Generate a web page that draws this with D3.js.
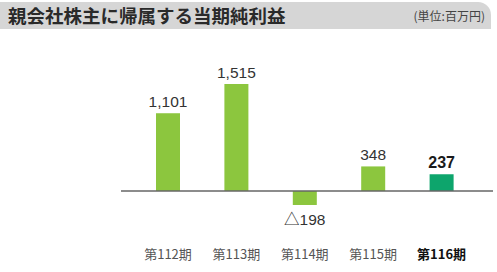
<!DOCTYPE html>
<html>
<head>
<meta charset="utf-8">
<script src="https://cdn.jsdelivr.net/npm/d3@7"></script>
<style>
  body { margin: 0; background: #fff; }
  svg text { font-family: "Liberation Sans", "Noto Sans CJK JP", sans-serif; }
</style>
</head>
<body>
<div id="chart"></div>
<script>
// chart data
const periods = ["第112期", "第113期", "第114期", "第115期", "第116期"]
const profits = [1101, 1515, -198, 348, 237]
const valueLabels = ["1,101", "1,515", "△198", "348", "237"]
const title = "親会社株主に帰属する当期純利益"
const unit = "(単位:百万円)"

const W = 497, H = 272
const zeroY = 191

let svg = d3.select("#chart").append("svg")
    .attr("width", W)
    .attr("height", H)

// header band with rounded top-right corner
const hx = 0, hy = 2, hw = 491, hh = 27, r = 13
svg.append("path")
    .attr("d", "M" + hx + "," + hy + " H" + (hx + hw - r) +
        " A" + r + "," + r + " 0 0 1 " + (hx + hw) + "," + (hy + r) +
        " V" + (hy + hh) + " H" + hx + " Z")
    .attr("fill", "#d6d6d6")

svg.append("text")
    .attr("x", 8)
    .attr("y", 23)
    .attr("font-size", 18.5)
    .attr("font-weight", "bold")
    .attr("fill", "#2a2a2a")
    .style("font-family", "'Noto Sans CJK JP', sans-serif")
    .text(title)

svg.append("text")
    .attr("x", 485)
    .attr("y", 21)
    .attr("text-anchor", "end")
    .attr("font-size", 12)
    .attr("fill", "#444")
    .style("font-family", "'Noto Sans CJK JP', sans-serif")
    .text(unit)

// scales
let xScale = d3.scaleBand()
    .domain(periods)
    .range([133.8, 475.8])

let yScale = d3.scaleLinear()
    .domain([0, 1515])
    .range([zeroY, 84])

const barW = 24
const cx = d => xScale(d) + xScale.bandwidth() / 2

svg.append("g")
    .selectAll("rect")
    .data(periods)
    .enter()
    .append("rect")
    .attr("x", d => cx(d) - barW / 2)
    .attr("width", barW)
    .attr("y", (d, i) => Math.min(yScale(profits[i]), yScale(0)))
    .attr("height", (d, i) => Math.abs(yScale(profits[i]) - yScale(0)))
    .attr("fill", (d, i) => i === periods.length - 1 ? "#0da56c" : "#8cc63e")

// zero line
svg.append("line")
    .attr("x1", 121)
    .attr("x2", 493)
    .attr("y1", yScale(0))
    .attr("y2", yScale(0))
    .attr("stroke", "#666")
    .attr("stroke-width", 1.5)

// value labels
svg.append("g")
    .selectAll("text")
    .data(periods)
    .enter()
    .append("text")
    .attr("x", cx)
    .attr("y", (d, i) => profits[i] >= 0 ? yScale(profits[i]) - 6 : yScale(profits[i]) + 20)
    .attr("text-anchor", "middle")
    .attr("font-size", (d, i) => i === periods.length - 1 ? 16 : 15.5)
    .attr("font-weight", (d, i) => i === periods.length - 1 ? "bold" : "normal")
    .attr("fill", (d, i) => i === periods.length - 1 ? "#1a1a1a" : "#333")
    .text((d, i) => valueLabels[i])

// category labels
svg.append("g")
    .selectAll("text")
    .data(periods)
    .enter()
    .append("text")
    .attr("x", cx)
    .attr("y", 259)
    .attr("text-anchor", "middle")
    .attr("font-size", 13)
    .attr("font-weight", (d, i) => i === periods.length - 1 ? "bold" : "normal")
    .attr("fill", (d, i) => i === periods.length - 1 ? "#111" : "#555")
    .style("font-family", "'Noto Sans CJK JP', sans-serif")
    .text(d => d)
</script>
</body>
</html>
